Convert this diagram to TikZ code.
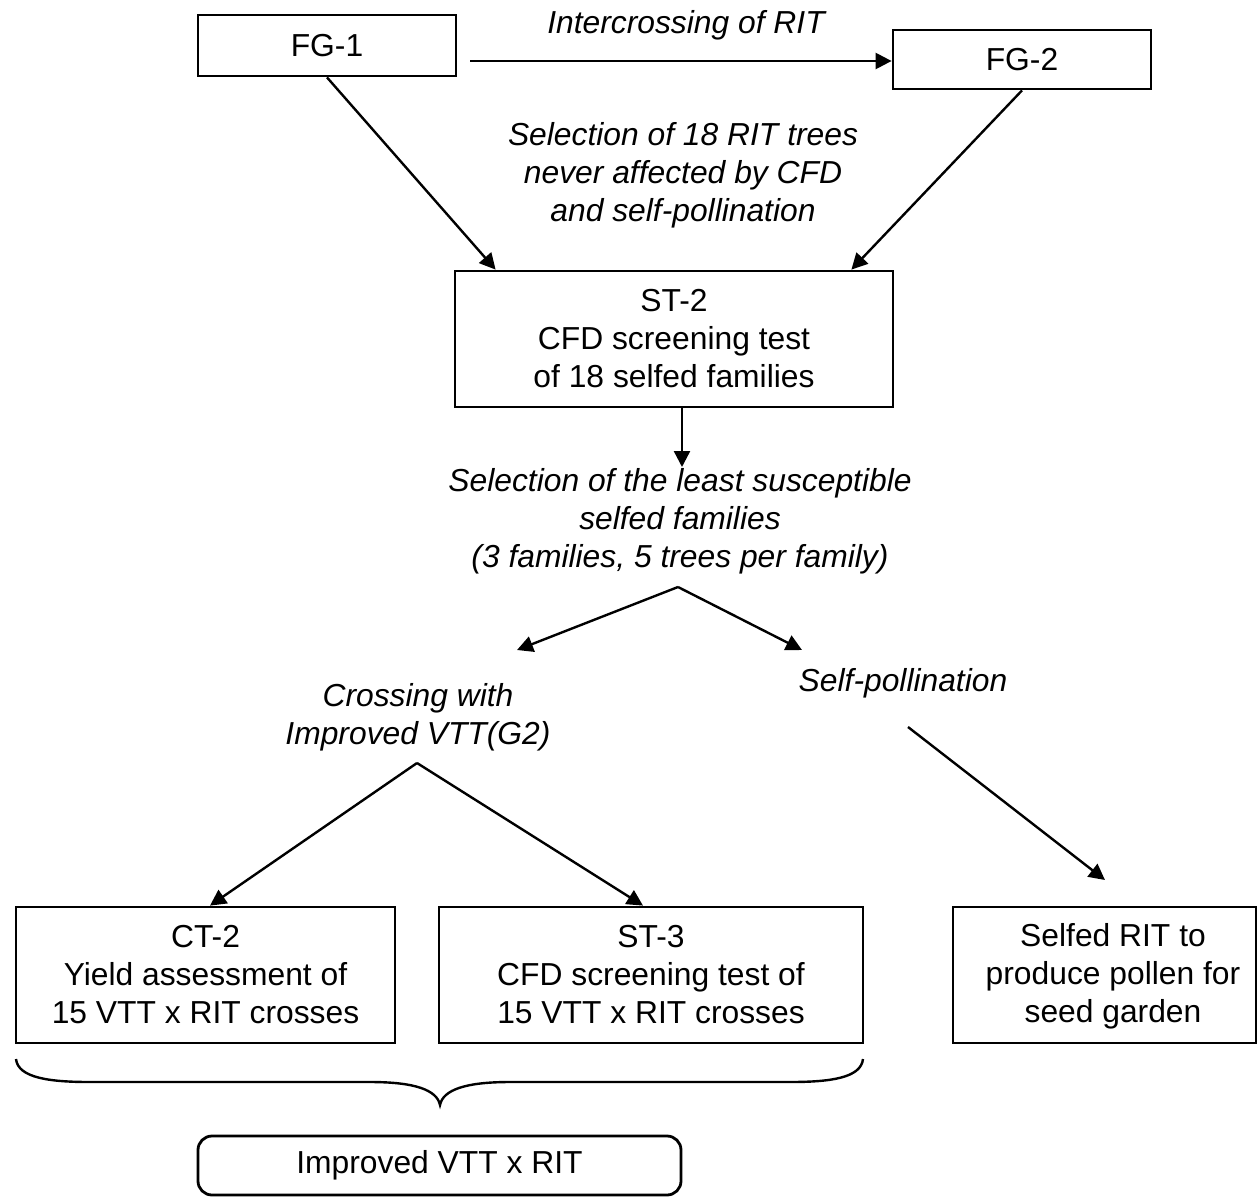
\documentclass[tikz,border=0pt]{standalone}
\usepackage{fontspec}
\setmainfont{Liberation Sans}
\usetikzlibrary{arrows.meta,calc}
\begin{document}
\begin{tikzpicture}[x=1pt,y=-1pt,
  every node/.style={font=\fontsize{31.8}{38}\selectfont, inner sep=0pt, align=center},
  box/.style={draw, line width=2.8pt},
  lbl/.style={font=\fontsize{31.8}{38}\selectfont\itshape},
  arr/.style={line width=2.4pt, -{Triangle[length=16pt,width=16pt]}},
  brace/.style={line width=2.4pt},
]
\useasboundingbox (0,0) rectangle (1258,1197);

% boxes
\node[box, minimum width=258pt, minimum height=61pt] (fg1) at (327,45.5) {FG-1};
\node[box, minimum width=258pt, minimum height=59pt] (fg2) at (1022,59.5) {FG-2};
\node[box, minimum width=438pt, minimum height=136pt] (st2) at (674,339) {ST-2\\CFD screening test\\of 18 selfed families};
\node[box, minimum width=379pt, minimum height=136pt] (ct2) at (205.5,975) {CT-2\\Yield assessment of\\15 VTT x RIT crosses};
\node[box, minimum width=424pt, minimum height=136pt] (st3) at (651,975) {ST-3\\CFD screening test of\\15 VTT x RIT crosses};
\node[box, minimum width=303pt, minimum height=136pt] (selfbox) at (1104.5,975) {};
\node (selftxt) at (1113,976) {Selfed RIT to\\produce pollen for\\seed garden};
\node[box, rounded corners=14pt, minimum width=483pt, minimum height=59pt] (imp) at (439.5,1165.5) {Improved VTT x RIT};

% italic labels
\node[lbl] (inter) at (686,25) {Intercrossing of RIT};
\node[lbl] (sel1) at (683,175) {Selection of 18 RIT trees\\never affected by CFD\\and self-pollination};
\node[lbl] (sel2) at (680,521) {Selection of the least susceptible\\selfed families\\(3 families, 5 trees per family)};
\node[lbl] (cross) at (418,717) {Crossing with\\Improved VTT(G2)};
\node[lbl] (selfp) at (903,683) {Self-pollination};

% connectors
\coordinate (a0) at (470,61);
\draw[arr] (a0) -- (a0 -| fg2.west);
\draw[arr] (fg1.south) -- ([xshift=42pt]st2.north west);
\draw[arr] (fg2.south) -- ([xshift=-43pt]st2.north east);
\coordinate (t1) at (682,467);
\draw[arr] (st2.south -| t1) -- (t1);
\coordinate (split) at (678,587);
\coordinate (tl) at (517,650);
\coordinate (tr) at (802,650);
\draw[arr] (split) -- (tl);
\draw[arr] (split) -- (tr);
\coordinate (ctop) at (417,763);
\draw[arr] (ctop) -- ([xshift=4.5pt]ct2.north);
\draw[arr] (ctop) -- ([xshift=-8pt]st3.north);
\coordinate (s0) at (908,727);
\coordinate (s1) at (1105,880);
\draw[arr] (s0) -- (s1);

% brace
\coordinate (bl) at (16,1059);
\coordinate (br) at (863,1059);
\coordinate (btip) at (440,1105);
\draw[brace] (bl) .. controls (18,1078) and (50,1082) .. (90,1082)
  -- (370,1082) .. controls (415,1082) and (437,1090) .. (btip)
  .. controls (443,1090) and (465,1082) .. (510,1082)
  -- (790,1082) .. controls (830,1082) and (861,1078) .. (br);
\end{tikzpicture}
\end{document}
